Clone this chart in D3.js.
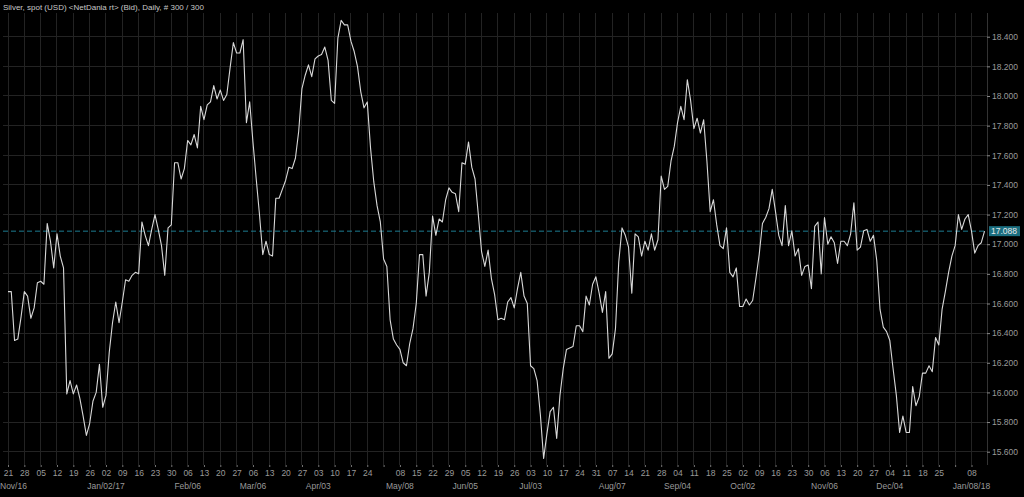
<!DOCTYPE html>
<html>
<head>
<meta charset="utf-8">
<script src="https://cdn.jsdelivr.net/npm/d3@7"></script>
<style>
  html, body { margin: 0; padding: 0; background: #000; }
  svg { display: block; }
  text { font-family: "Liberation Sans", Arial, sans-serif; }
</style>
</head>
<body>
<svg id="chart" width="1024" height="497"></svg>
<script>
// ---- data ----
const title = "Silver, spot (USD) <NetDania rt> (Bid), Daily, # 300 / 300";
const prices = [
  16.68, 16.68, 16.35, 16.36, 16.51, 16.68, 16.65, 16.50, 16.57, 16.74,
  16.75, 16.73, 17.14, 17.02, 16.84, 17.07, 16.92, 16.84, 15.99, 16.08,
  15.99, 16.05, 15.96, 15.84, 15.71, 15.79, 15.94, 16.00, 16.19, 15.90,
  15.98, 16.27, 16.47, 16.61, 16.47, 16.61, 16.76, 16.75, 16.79, 16.81,
  16.80, 17.15, 17.06, 16.99, 17.10, 17.20, 17.10, 16.99, 16.79, 17.11,
  17.13, 17.55, 17.55, 17.44, 17.51, 17.70, 17.67, 17.74, 17.65, 17.93,
  17.84, 17.94, 17.96, 18.07, 17.98, 18.04, 17.97, 18.01, 18.19, 18.36,
  18.29, 18.29, 18.38, 17.82, 17.96, 17.69, 17.44, 17.20, 16.93, 17.02,
  16.93, 16.92, 17.31, 17.31, 17.37, 17.43, 17.52, 17.51, 17.58, 17.76,
  18.05, 18.14, 18.21, 18.13, 18.25, 18.27, 18.28, 18.33, 18.24, 17.97,
  17.95, 18.39, 18.51, 18.48, 18.48, 18.37, 18.30, 18.20, 18.03, 17.92,
  17.96, 17.65, 17.42, 17.26, 17.15, 16.90, 16.85, 16.49, 16.36, 16.32,
  16.29, 16.20, 16.18, 16.33, 16.43, 16.60, 16.93, 16.93, 16.65, 16.81,
  17.19, 17.06, 17.17, 17.15, 17.30, 17.38, 17.35, 17.34, 17.22, 17.55,
  17.54, 17.69, 17.52, 17.44, 17.20, 16.95, 16.85, 16.96, 16.77, 16.66,
  16.49, 16.50, 16.49, 16.61, 16.64, 16.57, 16.70, 16.81, 16.65, 16.60,
  16.18, 16.16, 16.08, 15.85, 15.555, 15.72, 15.87, 15.90, 15.69, 15.98,
  16.16, 16.29, 16.30, 16.31, 16.45, 16.45, 16.41, 16.65, 16.59, 16.73,
  16.78, 16.67, 16.54, 16.68, 16.23, 16.26, 16.43, 16.88, 17.11, 17.06,
  16.98, 16.67, 17.07, 17.05, 16.92, 17.02, 16.96, 17.07, 16.96, 17.03,
  17.46, 17.37, 17.39, 17.56, 17.66, 17.82, 17.93, 17.84, 18.11, 17.97,
  17.78, 17.85, 17.75, 17.84, 17.56, 17.22, 17.30, 17.13, 16.99, 16.97,
  17.11, 16.81, 16.78, 16.84, 16.58, 16.58, 16.63, 16.59, 16.62, 16.77,
  16.93, 17.14, 17.18, 17.24, 17.37, 17.22, 17.06, 16.99, 17.26, 16.99,
  17.09, 16.92, 16.97, 16.79, 16.85, 16.86, 16.70, 17.12, 17.15, 16.80,
  17.18, 17.00, 17.05, 17.01, 16.87, 17.02, 17.02, 16.99, 17.07, 17.28,
  16.96, 16.98, 17.09, 17.10, 17.02, 17.06, 16.89, 16.56, 16.44, 16.41,
  16.35, 16.16, 15.98, 15.73, 15.84, 15.73, 15.73, 16.04, 15.91, 15.97,
  16.13, 16.13, 16.18, 16.14, 16.37, 16.32, 16.56, 16.68, 16.81, 16.92,
  16.99, 17.20, 17.10, 17.17, 17.20, 17.09, 16.94, 16.99, 17.01, 17.088
];
const lastValue = 17.088;
// one label per weekly (Monday) tick, every 5 trading days
const dayLabels = ["21","28","05","12","19","26","02","09","16","23","30","06","13","20","27",
  "06","13","20","27","03","10","17","24","","08","15","22","29","05","12","19","26",
  "03","10","17","24","31","07","14","21","28","04","11","18","25","02","09","16","23","30",
  "06","13","20","27","04","11","18","25","","08"];
const monthWeeks  = [0, 6, 11, 15, 19, 24, 28, 32, 37, 41, 45, 50, 54, 59];
const monthLabels = ["Nov/16","Jan/02/17","Feb/06","Mar/06","Apr/03","May/08","Jun/05",
  "Jul/03","Aug/07","Sep/04","Oct/02","Nov/06","Dec/04","Jan/08/18"];
const yTicks = [15.6, 15.8, 16.0, 16.2, 16.4, 16.6, 16.8, 17.0, 17.2, 17.4, 17.6, 17.8, 18.0, 18.2, 18.4];

// ---- layout ----
const svg = d3.select("#chart");
const plot = { left: 3, right: 987, top: 13, bottom: 465 };
const x = d3.scaleLinear().domain([0, prices.length - 1]).range([8, 8 + 3.266 * (prices.length - 1)]);
const y = d3.scaleLinear().domain([15.6, 18.4]).range([451.7, 36.7]);
const weekIdx = dayLabels.map((d, i) => i * 5);

svg.append("rect").attr("width", 1024).attr("height", 497).attr("fill", "#000");

// grid
const grid = svg.append("g");
grid.selectAll(".vg").data(weekIdx).join("line")
  .attr("x1", d => x(d)).attr("x2", d => x(d))
  .attr("y1", plot.top).attr("y2", plot.bottom)
  .attr("stroke", "#232323").attr("stroke-width", 1).attr("shape-rendering", "crispEdges");
grid.selectAll(".hg").data(yTicks).join("line")
  .attr("x1", plot.left).attr("x2", plot.right)
  .attr("y1", d => y(d)).attr("y2", d => y(d))
  .attr("stroke", "#232323").attr("stroke-width", 1).attr("shape-rendering", "crispEdges");
svg.append("line").attr("x1", plot.right).attr("x2", plot.right)
  .attr("y1", plot.top).attr("y2", plot.bottom)
  .attr("stroke", "#333").attr("shape-rendering", "crispEdges");

// title
svg.append("text").attr("x", 3).attr("y", 9.5)
  .attr("fill", "#c8c8c8").attr("font-size", "8px").text(title);

// right axis
const yAxis = svg.append("g").attr("transform", `translate(${plot.right},0)`)
  .call(d3.axisRight(y).tickValues(yTicks).tickFormat(d3.format(".3f")).tickSize(3).tickPadding(2));
yAxis.select(".domain").remove();
yAxis.selectAll("line").attr("stroke", "#888");
yAxis.selectAll("text").attr("fill", "#9a9a9a").attr("font-size", "8.5px")
  .attr("font-family", "'Liberation Sans', Arial, sans-serif");

// bottom axis: day numbers
const xAxis = svg.append("g").attr("transform", `translate(0,${plot.bottom})`)
  .call(d3.axisBottom(x).tickValues(weekIdx).tickFormat(d => dayLabels[d / 5]).tickSize(2).tickPadding(3));
xAxis.select(".domain").remove();
xAxis.selectAll("line").attr("stroke", "#777");
xAxis.selectAll("text").attr("fill", "#9a9a9a").attr("font-size", "8.5px")
  .attr("font-family", "'Liberation Sans', Arial, sans-serif");

// month labels
svg.append("g").selectAll("text").data(monthWeeks).join("text")
  .attr("x", (d, i) => i === 0 ? 0 : x(d * 5))
  .attr("y", 489)
  .attr("text-anchor", (d, i) => i === 0 ? "start" : "middle")
  .attr("fill", "#9a9a9a").attr("font-size", "8.5px")
  .text((d, i) => monthLabels[i]);

// last value dashed line
svg.append("line").attr("x1", plot.left).attr("x2", plot.right)
  .attr("y1", y(lastValue)).attr("y2", y(lastValue))
  .attr("stroke", "#1c7c90").attr("stroke-width", 1).attr("stroke-dasharray", "5,3");

// price line
svg.append("path").datum(prices)
  .attr("fill", "none").attr("stroke", "#d8d8d8").attr("stroke-width", 1.1)
  .attr("stroke-linejoin", "round")
  .attr("d", d3.line().x((d, i) => x(i)).y(d => y(d)));

// last value box
const ly = y(lastValue);
svg.append("rect").attr("x", 989).attr("y", ly - 5).attr("width", 31).attr("height", 10)
  .attr("fill", "#1b6e80");
svg.append("text").attr("x", 991).attr("y", ly + 3)
  .attr("fill", "#e8e8e8").attr("font-size", "8.5px").text(d3.format(".3f")(lastValue));
</script>
</body>
</html>
